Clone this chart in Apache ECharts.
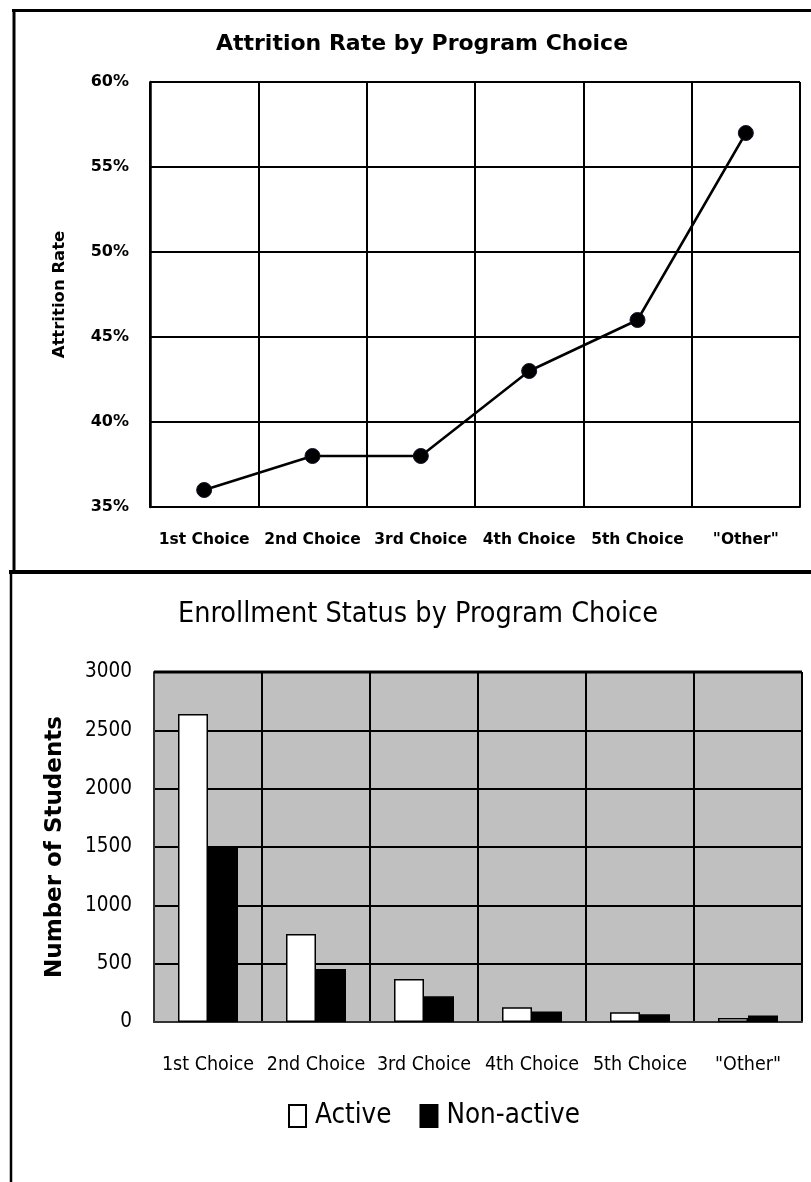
<!DOCTYPE html>
<html>
<head>
<meta charset="utf-8">
<script src="https://cdn.jsdelivr.net/npm/echarts@6/dist/echarts.min.js"></script>
<style>
html,body{margin:0;padding:0;background:#fff;}
#chart{width:811px;height:1182px;}
</style>
</head>
<body>
<div id="chart"></div>
<script>
// ---- data ----
const categories = ['1st Choice', '2nd Choice', '3rd Choice', '4th Choice', '5th Choice', '"Other"'];
const attritionRate = [36, 38, 38, 43, 46, 57];          // percent
const rateTicks = { min: 35, max: 60, interval: 5 };
const activeStudents = [2640, 755, 368, 127, 84, 35];
const nonActiveStudents = [1500, 455, 220, 89, 66, 55];
const studentTicks = { min: 0, max: 3000, interval: 500 };
const topTitle = 'Attrition Rate by Program Choice';
const bottomTitle = 'Enrollment Status by Program Choice';

const VERD = 'DejaVu Sans';
const NARROW = '"Liberation Sans Narrow", "Arial Narrow", "DejaVu Sans Condensed", sans-serif';

const chart = echarts.init(document.getElementById('chart'), null, { renderer: 'canvas' });

const option = {
  animation: false,
  backgroundColor: '#ffffff',
  graphic: [
    { type: 'line', shape: { x1: 12, y1: 10.5, x2: 811, y2: 10.5 }, style: { stroke: '#000', lineWidth: 3 } },
    { type: 'line', shape: { x1: 14, y1: 9, x2: 14, y2: 572 }, style: { stroke: '#000', lineWidth: 3 } },
    { type: 'line', shape: { x1: 9, y1: 572, x2: 811, y2: 572 }, style: { stroke: '#000', lineWidth: 4 } },
    { type: 'line', shape: { x1: 11, y1: 572, x2: 11, y2: 1182 }, style: { stroke: '#000', lineWidth: 2.5 } },
    { type: 'line', shape: { x1: 154, y1: 672, x2: 802, y2: 672 }, style: { stroke: '#000', lineWidth: 3 }, z: 10 },
    { type: 'text', x: 422, y: 44, style: { text: topTitle, font: 'bold 22px "DejaVu Sans"', fill: '#000', textAlign: 'center', textVerticalAlign: 'middle' } },
    { type: 'text', x: 418, y: 615, style: { text: bottomTitle, font: '28.5px ' + NARROW, fill: '#000', textAlign: 'center', textVerticalAlign: 'middle' } }
  ],
  grid: [
    { left: 150, top: 82, width: 650, height: 425, containLabel: false, show: false },
    { left: 154, top: 672, width: 648, height: 350, containLabel: false, show: true, backgroundColor: '#c0c0c0', borderWidth: 0 }
  ],
  legend: {
    data: ['Active', 'Non-active'],
    left: 288,
    top: 1099,
    padding: 0,
    icon: 'rect',
    itemWidth: 17,
    itemHeight: 22,
    itemGap: 28,
    textStyle: { fontFamily: NARROW, fontSize: 27.5, color: '#000', lineHeight: 34, padding: [0, 0, 0, 4] },
    selectedMode: false
  },
  xAxis: [
    {
      gridIndex: 0, type: 'category', data: categories, boundaryGap: true,
      axisLine: { show: true, lineStyle: { color: '#000', width: 2 } },
      axisTick: { show: false },
      axisLabel: { fontFamily: VERD, fontWeight: 'bold', fontSize: 15.5, color: '#000', margin: 25, interval: 0 },
      splitLine: { show: true, interval: 0, lineStyle: { color: '#000', width: 2 } }
    },
    {
      gridIndex: 1, type: 'category', data: categories, boundaryGap: true,
      axisLine: { show: true, lineStyle: { color: '#333', width: 2 } },
      axisTick: { show: false },
      axisLabel: { fontFamily: NARROW, fontSize: 19.5, color: '#000', margin: 33, interval: 0 },
      splitLine: { show: true, interval: 0, lineStyle: { color: '#000', width: 2 } }
    }
  ],
  yAxis: [
    {
      gridIndex: 0, type: 'value', min: rateTicks.min, max: rateTicks.max, interval: rateTicks.interval,
      name: 'Attrition Rate', nameLocation: 'middle', nameGap: 82,
      nameTextStyle: { fontFamily: VERD, fontWeight: 'bold', fontSize: 16.5, color: '#000' },
      axisLine: { show: true, lineStyle: { color: '#000', width: 2.5 } },
      axisTick: { show: false },
      axisLabel: { fontFamily: VERD, fontWeight: 'bold', fontSize: 16, color: '#000', margin: 21, formatter: '{value}%' },
      splitLine: { show: true, lineStyle: { color: '#000', width: 2 } }
    },
    {
      gridIndex: 1, type: 'value', min: studentTicks.min, max: studentTicks.max, interval: studentTicks.interval,
      name: 'Number of Students', nameLocation: 'middle', nameGap: 87,
      nameTextStyle: { fontFamily: VERD, fontWeight: 'bold', fontSize: 23, color: '#000' },
      axisLine: { show: true, lineStyle: { color: '#333', width: 2 } },
      axisTick: { show: false },
      axisLabel: { fontFamily: NARROW, fontSize: 20.5, color: '#000', margin: 22, formatter: function (v) { return String(v); } },
      splitLine: { show: true, lineStyle: { color: '#000', width: 2 } }
    }
  ],
  series: [
    {
      type: 'line', name: 'Attrition Rate', xAxisIndex: 0, yAxisIndex: 0, data: attritionRate,
      symbol: 'circle', symbolSize: 15,
      lineStyle: { color: '#000', width: 2.5 },
      itemStyle: { color: '#000', borderColor: '#10102a', borderWidth: 1 },
      emphasis: { disabled: true }, z: 5
    },
    {
      type: 'bar', name: 'Active', xAxisIndex: 1, yAxisIndex: 1, data: activeStudents,
      barWidth: 30, barGap: '0%',
      itemStyle: { color: '#ffffff', borderColor: '#000', borderWidth: 1.5 },
      emphasis: { disabled: true }, z: 5
    },
    {
      type: 'bar', name: 'Non-active', xAxisIndex: 1, yAxisIndex: 1, data: nonActiveStudents,
      barWidth: 30, barGap: '0%',
      itemStyle: { color: '#000000', borderColor: '#000', borderWidth: 1.5 },
      emphasis: { disabled: true }, z: 5
    }
  ]
};

chart.setOption(option);
</script>
</body>
</html>
